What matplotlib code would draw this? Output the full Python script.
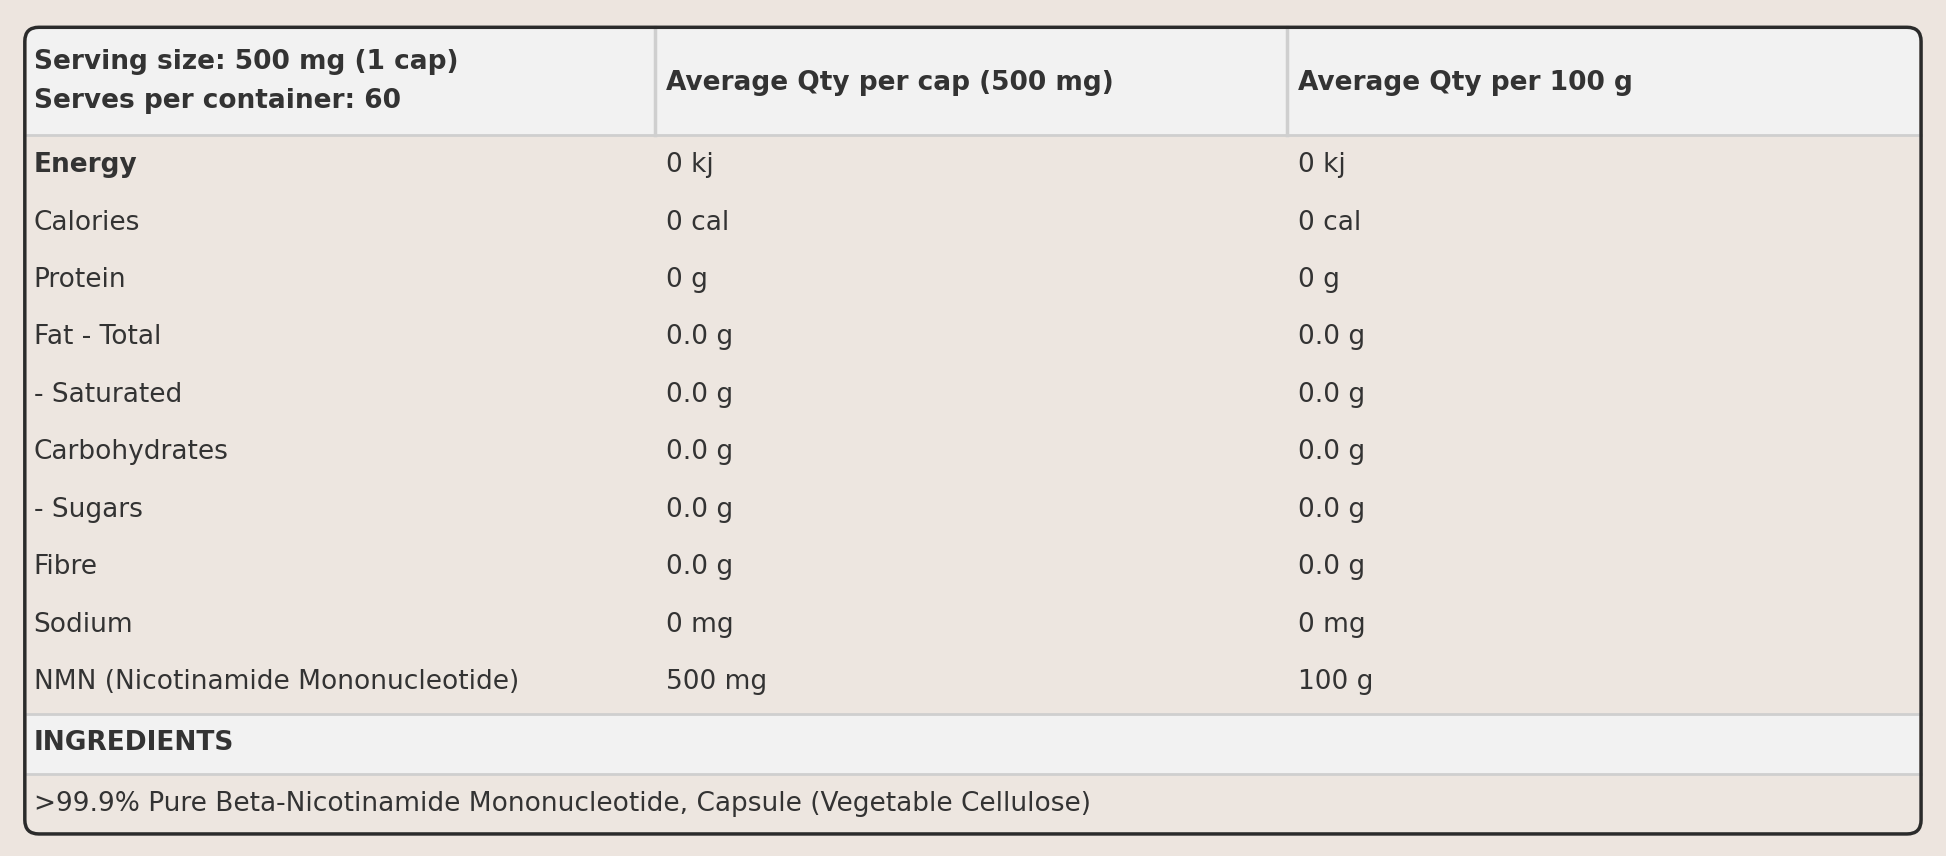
import matplotlib
matplotlib.use("Agg")
import matplotlib.pyplot as plt
from matplotlib.patches import FancyBboxPatch, Rectangle

header = ["Serving size: 500 mg (1 cap)\nServes per container: 60",
          "Average Qty per cap (500 mg)", "Average Qty per 100 g"]
nutrients = ["Energy", "Calories", "Protein", "Fat - Total", "- Saturated",
             "Carbohydrates", "- Sugars", "Fibre", "Sodium",
             "NMN (Nicotinamide Mononucleotide)"]
per_cap = ["0 kj", "0 cal", "0 g", "0.0 g", "0.0 g", "0.0 g", "0.0 g", "0.0 g", "0 mg", "500 mg"]
per_100g = ["0 kj", "0 cal", "0 g", "0.0 g", "0.0 g", "0.0 g", "0.0 g", "0.0 g", "0 mg", "100 g"]
ingredients_title = "INGREDIENTS"
ingredients_text = ">99.9% Pure Beta-Nicotinamide Mononucleotide, Capsule (Vegetable Cellulose)"

S = 1.241
W, H = 1946, 856
fig = plt.figure(figsize=(W/100, H/100), dpi=100)
fig.patch.set_facecolor("#ede5df")
ax = fig.add_axes([0, 0, 1, 1])
ax.set_xlim(0, W); ax.set_ylim(H, 0); ax.axis("off")

L, R, T, B = 20*S, 1548*S, 22*S, 672*S
hb = 109*S
c1, c2 = 528*S, 1037*S
ig_top, ig_bot = 575*S, 624*S
txt = "#333333"
fs = 19

ax.add_patch(FancyBboxPatch((L, T), R-L, B-T, boxstyle="round,pad=0,rounding_size=14",
                            fc="#ede6e0", ec="none", zorder=1))
ax.add_patch(Rectangle((L+2, T+2), R-L-4, hb-T-2, fc="#f2f2f2", ec="none", zorder=2))
ax.add_patch(Rectangle((L+2, ig_top), R-L-4, ig_bot-ig_top, fc="#f2f2f2", ec="none", zorder=2))
for y in (hb, ig_top, ig_bot):
    ax.plot([L, R], [y, y], color="#cfcfcf", lw=2, zorder=3)
for x in (c1, c2):
    ax.plot([x, x], [T, hb], color="#cfcfcf", lw=2.5, zorder=3)
ax.add_patch(FancyBboxPatch((L, T), R-L, B-T, boxstyle="round,pad=0,rounding_size=14",
                            fc="none", ec="#2b2b2b", lw=2.5, zorder=4))

xs = [27*S, 537*S, 1046*S]
ax.text(xs[0], 66*S, header[0], fontsize=fs, fontweight="bold", color=txt, va="center", linespacing=1.65, zorder=5)
ax.text(xs[1], 67*S, header[1], fontsize=fs, fontweight="bold", color=txt, va="center", zorder=5)
ax.text(xs[2], 67*S, header[2], fontsize=fs, fontweight="bold", color=txt, va="center", zorder=5)

for i, (n, a, b) in enumerate(zip(nutrients, per_cap, per_100g)):
    y = (133 + i*46.3)*S
    ax.text(xs[0], y, n, fontsize=fs, color=txt, va="center", fontweight="bold" if i == 0 else "normal", zorder=5)
    ax.text(xs[1], y, a, fontsize=fs, color=txt, va="center", zorder=5)
    ax.text(xs[2], y, b, fontsize=fs, color=txt, va="center", zorder=5)

ax.text(xs[0], 599*S, ingredients_title, fontsize=fs, fontweight="bold", color=txt, va="center", zorder=5)
ax.text(xs[0], 648*S, ingredients_text, fontsize=fs, color=txt, va="center", zorder=5)

fig.savefig("out.png", dpi=100, facecolor=fig.get_facecolor())
